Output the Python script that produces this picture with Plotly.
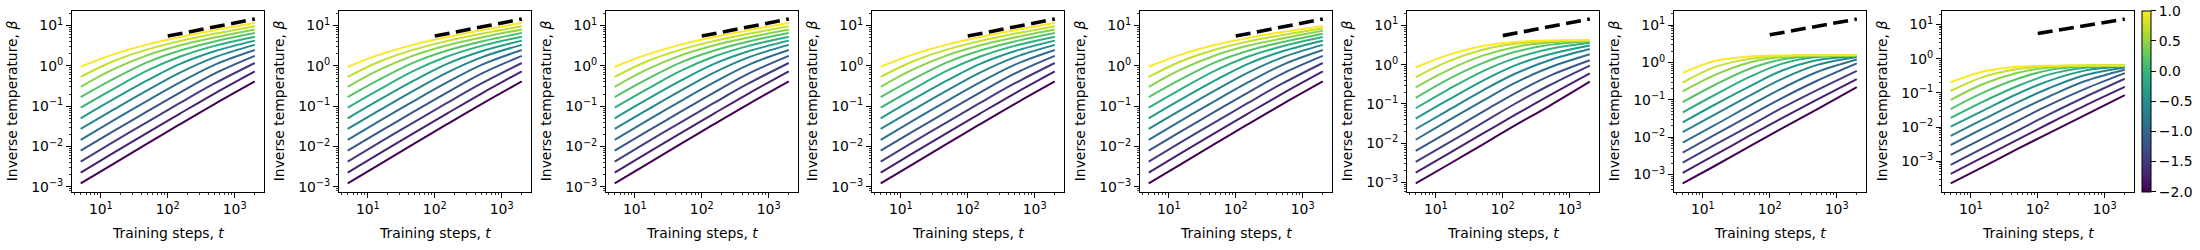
import plotly.graph_objects as go
from plotly.colors import sample_colorscale
import math

# ---------------- data ----------------
T = [5, 15, 50, 150, 500, 2000]
LOG_ETA = [-2.0, -1.727, -1.455, -1.182, -0.909, -0.636, -0.364, -0.091, 0.182, 0.455, 0.727, 1.0]

# rows: colour value low -> high (dark purple -> yellow); columns follow T
BETA_A = [  # panels 1-4
    [0.00121, 0.00361, 0.0119, 0.0352, 0.113, 0.412],
    [0.00226, 0.00676, 0.0222, 0.0647, 0.206, 0.73],
    [0.00423, 0.0126, 0.0410, 0.1186, 0.366, 1.18],
    [0.00787, 0.0233, 0.0753, 0.215, 0.643, 1.77],
    [0.0146, 0.0431, 0.138, 0.384, 1.064, 2.48],
    [0.0272, 0.0794, 0.250, 0.673, 1.63, 3.32],
    [0.0501, 0.145, 0.442, 1.107, 2.31, 4.24],
    [0.0923, 0.262, 0.773, 1.686, 3.14, 5.31],
    [0.1687, 0.463, 1.242, 2.38, 4.05, 6.53],
    [0.303, 0.807, 1.85, 3.21, 5.07, 8.02],
    [0.533, 1.285, 2.57, 4.12, 6.25, 9.64],
    [0.95, 1.90, 3.42, 5.15, 7.67, 11.6],
]
BETA_E = [  # panel 5
    [0.00121, 0.00361, 0.0119, 0.0352, 0.113, 0.412],
    [0.00226, 0.00676, 0.0222, 0.0647, 0.206, 0.73],
    [0.00423, 0.0126, 0.0410, 0.1186, 0.366, 1.18],
    [0.00787, 0.0233, 0.0753, 0.215, 0.643, 1.77],
    [0.0146, 0.0431, 0.138, 0.384, 1.064, 2.48],
    [0.0272, 0.0794, 0.250, 0.673, 1.63, 3.32],
    [0.0501, 0.145, 0.442, 1.107, 2.30, 4.2],
    [0.0923, 0.262, 0.773, 1.68, 3.08, 5.2],
    [0.1687, 0.463, 1.24, 2.35, 3.9, 6.3],
    [0.303, 0.807, 1.84, 3.15, 4.8, 7.4],
    [0.533, 1.285, 2.55, 4.0, 5.8, 8.6],
    [0.95, 1.90, 3.35, 4.9, 6.9, 9.8],
]
BETA_F = [  # panel 6
    [0.00095, 0.0028, 0.0093, 0.028, 0.09, 0.37],
    [0.00178, 0.0053, 0.0175, 0.052, 0.165, 0.6],
    [0.00335, 0.01, 0.033, 0.1, 0.3, 0.95],
    [0.00645, 0.019, 0.063, 0.185, 0.52, 1.3],
    [0.0123, 0.037, 0.12, 0.34, 0.85, 1.85],
    [0.0231, 0.068, 0.22, 0.58, 1.3, 2.5],
    [0.0425, 0.125, 0.39, 0.95, 1.85, 3.1],
    [0.078, 0.23, 0.68, 1.45, 2.5, 3.6],
    [0.144, 0.42, 1.1, 2.1, 3.2, 3.95],
    [0.266, 0.72, 1.7, 2.8, 3.7, 4.1],
    [0.48, 1.2, 2.4, 3.4, 4.0, 4.2],
    [0.85, 1.75, 3.0, 3.8, 4.15, 4.2],
]
BETA_G = [  # panel 7
    [0.00058, 0.0017, 0.0057, 0.017, 0.055, 0.22],
    [0.00111, 0.0033, 0.011, 0.032, 0.1, 0.36],
    [0.0021, 0.0062, 0.02, 0.06, 0.18, 0.6],
    [0.0039, 0.0115, 0.038, 0.11, 0.32, 0.95],
    [0.0072, 0.021, 0.07, 0.2, 0.55, 1.2],
    [0.0137, 0.04, 0.13, 0.36, 0.85, 1.4],
    [0.025, 0.074, 0.23, 0.6, 1.15, 1.5],
    [0.046, 0.135, 0.41, 0.92, 1.4, 1.55],
    [0.087, 0.25, 0.68, 1.2, 1.5, 1.56],
    [0.169, 0.46, 1.0, 1.4, 1.54, 1.57],
    [0.29, 0.75, 1.25, 1.5, 1.56, 1.57],
    [0.53, 1.1, 1.45, 1.55, 1.57, 1.57],
]
BETA_H = [  # panel 8
    [0.000225, 0.00068, 0.0023, 0.0068, 0.022, 0.087],
    [0.00043, 0.0013, 0.0043, 0.013, 0.042, 0.15],
    [0.00079, 0.0024, 0.0079, 0.024, 0.075, 0.26],
    [0.00154, 0.0046, 0.0153, 0.045, 0.13, 0.38],
    [0.003, 0.009, 0.029, 0.08, 0.22, 0.48],
    [0.00555, 0.0165, 0.053, 0.14, 0.33, 0.56],
    [0.0103, 0.03, 0.095, 0.23, 0.45, 0.6],
    [0.0186, 0.055, 0.16, 0.35, 0.55, 0.63],
    [0.0338, 0.1, 0.26, 0.47, 0.6, 0.64],
    [0.0625, 0.18, 0.39, 0.56, 0.63, 0.64],
    [0.114, 0.29, 0.5, 0.61, 0.64, 0.64],
    [0.206, 0.42, 0.58, 0.63, 0.64, 0.64],
]
PANELS = [BETA_A, BETA_A, BETA_A, BETA_A, BETA_E, BETA_F, BETA_G, BETA_H]

GUIDE_T = [100, 2000]
GUIDE_BETA = [5.5, 14.5]

Y_TICKS = [1e-3, 1e-2, 1e-1, 1, 10]
Y_TICKTEXT = ["10<sup>\u22123</sup>", "10<sup>\u22122</sup>", "10<sup>\u22121</sup>",
              "10<sup>0</sup>", "10<sup>1</sup>"]
X_TICKS = [10, 100, 1000]
X_TICKTEXT = ["10<sup>1</sup>", "10<sup>2</sup>", "10<sup>3</sup>"]
CBAR_TICKS = [-2.0, -1.5, -1.0, -0.5, 0.0, 0.5, 1.0]
CBAR_TICKTEXT = ["\u22122.0", "\u22121.5", "\u22121.0", "\u22120.5", "0.0", "0.5", "1.0"]

# ---------------- layout geometry ----------------
W, H = 2200, 250
FONT = dict(family="DejaVu Sans", size=13.9, color="black")
LEFTS = [72, 339, 606, 872, 1140, 1407, 1674, 1942]
PW = 191.5
TOP, BOT = 11, 194
ydom = [1 - BOT / H, 1 - TOP / H]

lo_c, hi_c = min(LOG_ETA), max(LOG_ETA)
colors = sample_colorscale("Viridis", [(v - lo_c) / (hi_c - lo_c) for v in LOG_ETA])

minor_vals = [m * 10 ** e for e in range(-5, 5) for m in range(2, 10)]


def log_range(vals):
    lv = [math.log10(v) for v in vals]
    lo, hi = min(lv), max(lv)
    pad = 0.05 * (hi - lo)
    return [lo - pad, hi + pad]


fig = go.Figure()
annotations = []
xr = log_range(T)

for k, data in enumerate(PANELS):
    xa = "x" if k == 0 else f"x{k+1}"
    ya = "y" if k == 0 else f"y{k+1}"
    for i, row in enumerate(data):
        fig.add_trace(go.Scatter(
            x=T, y=row, mode="lines", xaxis=xa, yaxis=ya,
            line=dict(color=colors[i], width=2, shape="spline", smoothing=1.0),
            showlegend=False, hoverinfo="skip"))
    fig.add_trace(go.Scatter(
        x=GUIDE_T, y=GUIDE_BETA, mode="lines", xaxis=xa, yaxis=ya,
        line=dict(color="black", width=3.6, dash="15px,6.5px"),
        showlegend=False, hoverinfo="skip"))

    allv = [v for row in data for v in row] + GUIDE_BETA
    yr = log_range(allv)
    L = LEFTS[k]
    common = dict(showline=True, linecolor="black", linewidth=1, mirror=True,
                  ticks="outside", ticklen=5, tickwidth=1, tickcolor="black",
                  showgrid=False, zeroline=False, tickfont=FONT,
                  minor=dict(ticks="outside", ticklen=2.5, tickwidth=0.8,
                             tickcolor="black", tickmode="array",
                             tickvals=minor_vals, showgrid=False))
    xkey = "xaxis" if k == 0 else f"xaxis{k+1}"
    ykey = "yaxis" if k == 0 else f"yaxis{k+1}"
    fig.update_layout({
        xkey: dict(type="log", domain=[L / W, (L + PW) / W], range=xr,
                   anchor=ya, tickmode="array", tickvals=X_TICKS,
                   ticktext=X_TICKTEXT, **common),
        ykey: dict(type="log", domain=ydom, range=yr, anchor=xa,
                   tickmode="array", tickvals=Y_TICKS, ticktext=Y_TICKTEXT,
                   **common),
    })
    annotations.append(dict(
        text="Inverse temperature, <i>β</i>", xref="paper", yref="paper",
        x=(L - 60) / W, y=(ydom[0] + ydom[1]) / 2, textangle=-90,
        showarrow=False, font=FONT, xanchor="center", yanchor="middle"))
    annotations.append(dict(
        text="Training steps, <i>t</i>", xref="paper", yref="paper",
        x=(L + PW / 2) / W, y=1 - 236 / H, showarrow=False, font=FONT,
        xanchor="center", yanchor="middle"))

# colour bar
fig.add_trace(go.Scatter(
    x=[None], y=[None], mode="markers", xaxis="x8", yaxis="y8",
    marker=dict(color=[lo_c], colorscale="Viridis", cmin=-2, cmax=1, showscale=True,
                colorbar=dict(x=2142 / W, xanchor="left", xpad=0, ypad=0,
                              y=(ydom[0] + ydom[1]) / 2, yanchor="middle",
                              len=(BOT - TOP) / H, lenmode="fraction",
                              thickness=9, thicknessmode="pixels",
                              outlinewidth=1, outlinecolor="black",
                              ticks="outside", ticklen=5, tickcolor="black",
                              tickmode="array", tickvals=CBAR_TICKS,
                              ticktext=CBAR_TICKTEXT, tickfont=FONT)),
    showlegend=False, hoverinfo="skip"))

fig.update_layout(width=W, height=H, margin=dict(l=0, r=0, t=0, b=0),
                  paper_bgcolor="white", plot_bgcolor="white", hovermode=False,
                  font=FONT, annotations=annotations, showlegend=False)

fig.write_html("out.html",
               config={"displayModeBar": False, "staticPlot": True},
               post_script="document.body.style.margin='0px';"
                           "document.body.style.overflow='hidden';")
